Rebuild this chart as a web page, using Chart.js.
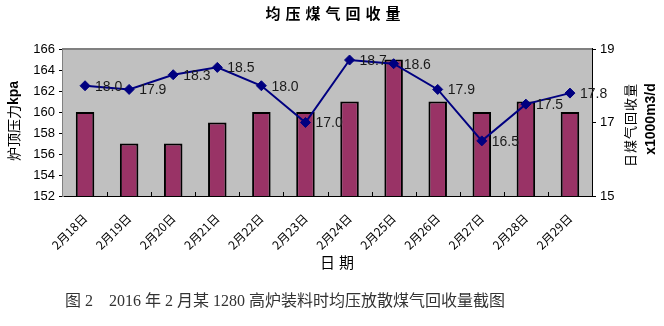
<!DOCTYPE html>
<html>
<head>
<meta charset="utf-8">
<script src="https://cdn.jsdelivr.net/npm/chart.js@4.4.1/dist/chart.umd.min.js"></script>
<style>
  html, body { margin: 0; padding: 0; background: #fff; }
  #wrap { position: relative; width: 664px; height: 326px; }
</style>
</head>
<body>
<div id="wrap"><canvas id="gasChart" width="664" height="326"></canvas></div>
<script>
// dates along the x axis
const days = ['2月18日', '2月19日', '2月20日', '2月21日', '2月22日', '2月23日',
              '2月24日', '2月25日', '2月26日', '2月27日', '2月28日', '2月29日'];
// top pressure, kpa (bars, left axis)
const topPressure = [160, 157, 157, 159, 160, 160, 161, 165, 161, 160, 161, 160];
// daily gas recovered, x1000 m3/d (line, right axis)
const gasRecovered = [18.0, 17.9, 18.3, 18.5, 18.0, 17.0, 18.7, 18.6, 17.9, 16.5, 17.5, 17.8];

const pressureTicks = { min: 152, max: 166, step: 2 };
const gasTicks = { min: 15, max: 19, step: 2 };

const sansFont = '"Liberation Sans", Arial, "Noto Sans CJK SC", sans-serif';
const cjkFont = '"Noto Sans CJK SC", "Liberation Sans", sans-serif';

// grey plot background + top edge
const plotFrame = {
    id: 'plotFrame',
    beforeDatasetsDraw(chart) {
        const { ctx, chartArea: a } = chart;
        ctx.save();
        ctx.fillStyle = '#c0c0c0';
        ctx.fillRect(a.left, a.top, a.right - a.left, a.bottom - a.top);
        ctx.strokeStyle = '#808080';
        ctx.lineWidth = 2;
        ctx.beginPath();
        ctx.moveTo(a.left, a.top);
        ctx.lineTo(a.right, a.top);
        ctx.stroke();
        // small category ticks pointing up from the bottom axis
        const x = chart.scales.x;
        const n = days.length;
        const w = (x.right - x.left) / n;
        ctx.strokeStyle = '#000';
        ctx.lineWidth = 1;
        ctx.beginPath();
        for (let i = 1; i < n; i++) {
            const px = Math.round(x.left + i * w) + 0.5;
            ctx.moveTo(px, a.bottom);
            ctx.lineTo(px, a.bottom - 4);
        }
        ctx.stroke();
        ctx.restore();
    }
};

// value labels beside the line points
const pointLabels = {
    id: 'pointLabels',
    afterDatasetsDraw(chart) {
        const ctx = chart.ctx;
        const meta = chart.getDatasetMeta(0);
        ctx.save();
        ctx.font = '14px ' + sansFont;
        ctx.fillStyle = '#1a1a1a';
        ctx.textBaseline = 'middle';
        ctx.textAlign = 'left';
        meta.data.forEach((pt, i) => {
            ctx.fillText(gasRecovered[i].toFixed(1), pt.x + 10, pt.y + 1);
        });
        ctx.restore();
    }
};

function spacedText(ctx, text, x, y, spacing) {
    let total = 0;
    const widths = [...text].map(ch => ctx.measureText(ch).width);
    widths.forEach(w => total += w);
    total += spacing * (widths.length - 1);
    let cx = x - total / 2;
    [...text].forEach((ch, i) => {
        ctx.fillText(ch, cx, y);
        cx += widths[i] + spacing;
    });
}

// chart title, axis titles and caption
const titles = {
    id: 'titles',
    afterDraw(chart) {
        const ctx = chart.ctx;
        ctx.save();
        ctx.fillStyle = '#000';
        ctx.textBaseline = 'middle';
        ctx.textAlign = 'left';

        ctx.font = 'bold 15px ' + cjkFont;
        spacedText(ctx, '均压煤气回收量', 333, 13, 5);

        ctx.font = '15px ' + cjkFont;
        spacedText(ctx, '日期', 337, 262, 4);

        // left axis title
        ctx.save();
        ctx.translate(14, 121);
        ctx.rotate(-Math.PI / 2);
        ctx.font = '14px ' + cjkFont;
        const part1 = '炉顶压力';
        const w1 = ctx.measureText(part1).width;
        ctx.font = 'bold 14px ' + sansFont;
        const w2 = ctx.measureText('kpa').width;
        let sx = -(w1 + w2) / 2;
        ctx.font = '14px ' + cjkFont;
        ctx.fillText(part1, sx, 0);
        ctx.font = 'bold 14px ' + sansFont;
        ctx.fillText('kpa', sx + w1, 0);
        ctx.restore();

        // right axis title, two lines
        ctx.save();
        ctx.translate(630, 119);
        ctx.rotate(-Math.PI / 2);
        ctx.textAlign = 'center';
        ctx.font = '13px ' + cjkFont;
        spacedText(ctx, '日煤气回收量', 0, 0, 1);
        ctx.font = 'bold 14px ' + sansFont;
        ctx.fillText('x1000m3/d', 0, 21);
        ctx.restore();

        // figure caption
        ctx.font = '16px "Liberation Serif", "Times New Roman", "Noto Sans CJK SC", serif';
        ctx.fillStyle = '#333';
        ctx.textAlign = 'left';
        ctx.fillText('图 2    2016 年 2 月某 1280 高炉装料时均压放散煤气回收量截图', 65, 302);
        ctx.restore();
    }
};

new Chart(document.getElementById('gasChart'), {
    type: 'bar',
    data: {
        labels: days,
        datasets: [{
            type: 'line',
            label: '日煤气回收量',
            data: gasRecovered,
            yAxisID: 'y1',
            order: 0,
            borderColor: '#000080',
            borderWidth: 2,
            tension: 0,
            pointStyle: 'rectRot',
            pointRadius: 5,
            pointBorderWidth: 1,
            pointBackgroundColor: '#000080',
            pointBorderColor: '#000080'
        }, {
            type: 'bar',
            label: '炉顶压力',
            data: topPressure,
            yAxisID: 'y',
            order: 1,
            backgroundColor: '#993366',
            borderColor: '#000',
            borderWidth: 2,
            borderSkipped: 'bottom',
            barPercentage: 0.42,
            categoryPercentage: 1.0
        }]
    },
    options: {
        responsive: false,
        animation: false,
        layout: { padding: { top: 49, left: 0, right: 0, bottom: 0 } },
        plugins: {
            legend: { display: false },
            tooltip: { enabled: false }
        },
        scales: {
            x: {
                offset: true,
                grid: { display: false },
                border: { color: '#000', width: 2 },
                ticks: {
                    autoSkip: false,
                    maxRotation: 45,
                    minRotation: 45,
                    padding: 7,
                    color: '#000',
                    font: { size: 12, family: cjkFont }
                },
                afterFit(scale) { scale.height = 130; }
            },
            y: {
                position: 'left',
                min: pressureTicks.min,
                max: pressureTicks.max,
                grid: { drawOnChartArea: false, drawTicks: true, tickLength: 4, color: '#000' },
                border: { color: '#808080', width: 2 },
                ticks: {
                    stepSize: pressureTicks.step,
                    padding: 4,
                    color: '#000',
                    font: { size: 13, family: sansFont }
                },
                afterFit(scale) { scale.width = 63; }
            },
            y1: {
                position: 'right',
                min: gasTicks.min,
                max: gasTicks.max,
                grid: { drawOnChartArea: false, drawTicks: true, tickLength: 4, color: '#000' },
                border: { color: '#000', width: 2 },
                ticks: {
                    stepSize: gasTicks.step,
                    padding: 4,
                    color: '#000',
                    font: { size: 13, family: sansFont }
                },
                afterFit(scale) { scale.width = 72; }
            }
        }
    },
    plugins: [plotFrame, pointLabels, titles]
});
</script>
</body>
</html>
